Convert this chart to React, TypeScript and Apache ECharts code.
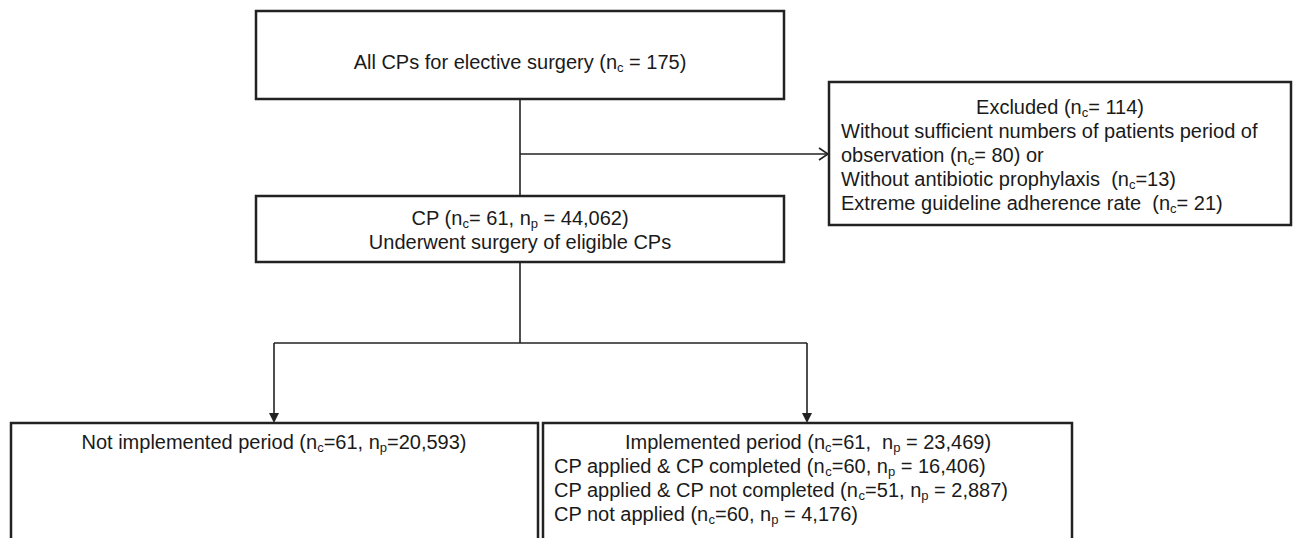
import React, { useEffect, useRef } from "react";
import * as echarts from "echarts";

// ---- data ----
const allCPs = 175;
const excludedCounts = [114, 80, 13, 21]; // total, insufficient patients, no prophylaxis, extreme adherence
const eligibleCounts = [61, 44062]; // nc, np
const notImplementedCounts = [61, 20593];
const implementedNc = [61, 60, 51, 60];
const implementedNp = [23469, 16406, 2887, 4176];
const implementedLabels = [
  "Implemented period",
  "CP applied & CP completed",
  "CP applied & CP not completed",
  "CP not applied",
];

const fmt = (v: number) => v.toLocaleString("en-US");

const FONT = "Liberation Sans";
const INK = "#1a1a1a";
const LINE = "#222";

const rich = {
  s: { fontSize: 13, fontFamily: FONT, lineHeight: 10, verticalAlign: "bottom", fill: INK },
};

function txt(x: number, y: number, text: string, align: string, vAlign = "middle") {
  return {
    type: "text",
    x,
    y,
    style: {
      text,
      fill: INK,
      fontSize: 20,
      fontFamily: FONT,
      lineHeight: 24,
      align,
      verticalAlign: vAlign,
      rich,
    },
  };
}

function box(x: number, y: number, w: number, h: number) {
  return {
    type: "rect",
    shape: { x, y, width: w, height: h },
    style: { fill: "transparent", stroke: LINE, lineWidth: 2.5 },
  };
}

function ln(x1: number, y1: number, x2: number, y2: number) {
  return {
    type: "line",
    shape: { x1, y1, x2, y2 },
    style: { stroke: LINE, lineWidth: 1.6 },
  };
}

function downArrow(x: number, y: number) {
  return {
    type: "polygon",
    shape: { points: [[x - 5, y - 10], [x + 5, y - 10], [x, y]] },
    style: { fill: LINE },
  };
}

export default function App() {
  const ref = useRef<HTMLDivElement>(null);
  useEffect(() => {
    if (!ref.current) return;
    const chart = echarts.init(ref.current, null, { renderer: "svg" });

    const exLines = [
      `Without sufficient numbers of patients period of`,
      `observation (n{s|c}= ${excludedCounts[1]}) or`,
      `Without antibiotic prophylaxis  (n{s|c}=${excludedCounts[2]})`,
      `Extreme guideline adherence rate  (n{s|c}= ${excludedCounts[3]})`,
    ];
    const implLines = [
      `${implementedLabels[1]} (n{s|c}=${implementedNc[1]}, n{s|p} = ${fmt(implementedNp[1])})`,
      `${implementedLabels[2]} (n{s|c}=${implementedNc[2]}, n{s|p} = ${fmt(implementedNp[2])})`,
      `${implementedLabels[3]} (n{s|c}=${implementedNc[3]}, n{s|p} = ${fmt(implementedNp[3])})`,
    ];

    const elements: any[] = [
      // boxes
      box(256, 11, 528, 88),
      box(829, 82, 462, 143),
      box(256, 196, 528, 66),
      box(11, 423, 527, 200),
      box(543, 423, 529, 200),
      // connectors
      ln(520, 99, 520, 196),
      ln(520, 154, 828, 154),
      {
        type: "polyline",
        shape: { points: [[819, 148], [828, 154], [819, 160]] },
        style: { stroke: LINE, lineWidth: 1.6, fill: "none" },
      },
      ln(520, 262, 520, 343),
      ln(274, 343, 807, 343),
      ln(274, 343, 274, 414),
      ln(807, 343, 807, 414),
      downArrow(274, 423),
      downArrow(807, 423),
      // texts
      txt(520, 62, `All CPs for elective surgery (n{s|c} = ${allCPs})`, "center"),
      txt(1060, 107, `Excluded (n{s|c}= ${excludedCounts[0]})`, "center"),
      txt(841, 119, exLines.join("\n"), "left", "top"),
      txt(
        520,
        206,
        `CP (n{s|c}= ${eligibleCounts[0]}, n{s|p} = ${fmt(eligibleCounts[1])})\nUnderwent surgery of eligible CPs`,
        "center",
        "top"
      ),
      txt(274, 442, `Not implemented period (n{s|c}=${notImplementedCounts[0]}, n{s|p}=${fmt(notImplementedCounts[1])})`, "center"),
      txt(808, 442, `${implementedLabels[0]} (n{s|c}=${implementedNc[0]},  n{s|p} = ${fmt(implementedNp[0])})`, "center"),
      txt(554, 454, implLines.join("\n"), "left", "top"),
    ];

    chart.setOption({
      animation: false,
      backgroundColor: "#ffffff",
      graphic: { elements },
    });
    return () => chart.dispose();
  }, []);
  return (
    <div
      ref={ref}
      style={{ position: "fixed", left: 0, top: 0, width: 1295, height: 538, background: "#fff" }}
    />
  );
}
